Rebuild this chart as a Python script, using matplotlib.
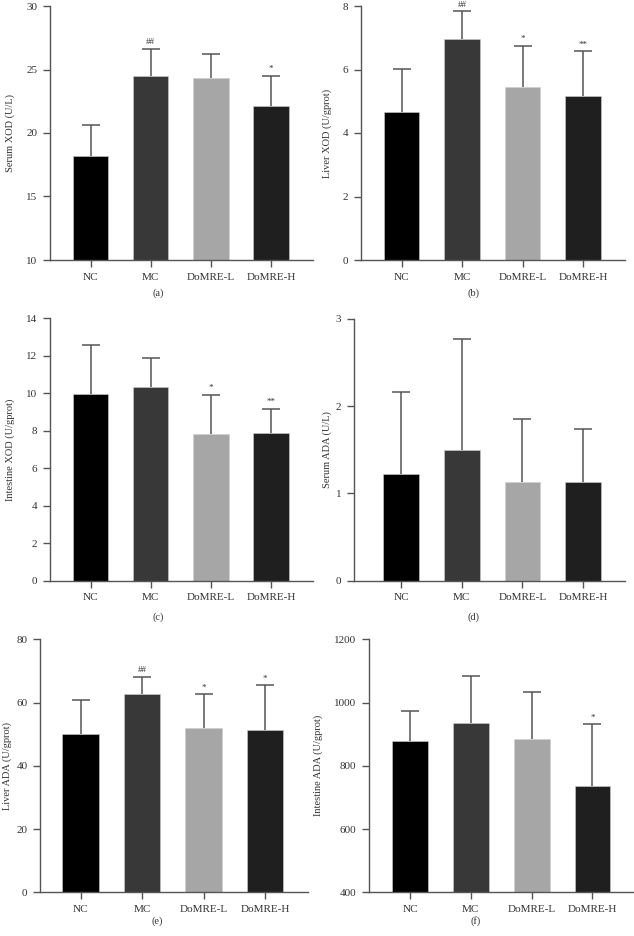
import matplotlib
matplotlib.use("Agg")
import matplotlib.pyplot as plt

plt.rcParams['font.family'] = ['Liberation Serif', 'DejaVu Serif']

groups = ['NC', 'MC', 'DoMRE-L', 'DoMRE-H']
bar_colors = ['#000000', '#383838', '#a6a6a6', '#1f1f1f']

serum_xod = [18.2, 24.5, 24.35, 22.15]
serum_xod_sd = [2.45, 2.1, 1.85, 2.35]
serum_xod_sig = ['', '##', '', '*']

liver_xod = [4.66, 6.95, 5.45, 5.17]
liver_xod_sd = [1.37, 0.88, 1.30, 1.40]
liver_xod_sig = ['', '##', '*', '**']

intestine_xod = [9.98, 10.36, 7.83, 7.86]
intestine_xod_sd = [2.58, 1.51, 2.10, 1.32]
intestine_xod_sig = ['', '', '*', '**']

serum_ada = [1.227, 1.494, 1.135, 1.135]
serum_ada_sd = [0.94, 1.276, 0.722, 0.607]
serum_ada_sig = ['', '', '', '']

liver_ada = [50.0, 62.8, 52.0, 51.4]
liver_ada_sd = [10.7, 5.3, 10.6, 14.0]
liver_ada_sig = ['', '##', '*', '*']

intestine_ada = [878, 936, 884, 735]
intestine_ada_sd = [94, 147, 150, 196]
intestine_ada_sig = ['', '', '', '*']

W, H = 634, 936
fig = plt.figure(figsize=(W / 100, H / 100), dpi=100)

# layout in pixels: left, top, bottom, xlim left, bar spacing, ... ylabel x, caption xy
panels = [
    (50, 6, 260, -0.673, 60.2, (10, 30), [10, 15, 20, 25, 30], 'Serum XOD (U/L)',
     serum_xod, serum_xod_sd, serum_xod_sig, '(a)', 15, (158, 293)),
    (361, 6, 260, -0.67, 60.5, (0, 8), [0, 2, 4, 6, 8], 'Liver XOD (U/gprot)',
     liver_xod, liver_xod_sd, liver_xod_sig, '(b)', 332, (473, 293)),
    (50, 318.3, 580.7, -0.673, 60.2, (0, 14), [0, 2, 4, 6, 8, 10, 12, 14], 'Intestine XOD (U/gprot)',
     intestine_xod, intestine_xod_sd, intestine_xod_sig, '(c)', 15, (158, 617)),
    (353.7, 319, 580.7, -0.78, 60.7, (0, 3), [0, 1, 2, 3], 'Serum ADA (U/L)',
     serum_ada, serum_ada_sd, serum_ada_sig, '(d)', 332, (473, 617)),
    (40, 639.3, 892.3, -0.66, 61.5, (0, 80), [0, 20, 40, 60, 80], 'Liver ADA (U/gprot)',
     liver_ada, liver_ada_sd, liver_ada_sig, '(e)', 12, (157, 921)),
    (368.7, 639.3, 892.3, -0.68, 60.8, (400, 1200), [400, 600, 800, 1000, 1200], 'Intestine ADA (U/gprot)',
     intestine_ada, intestine_ada_sd, intestine_ada_sig, '(f)', 323, (476, 921)),
]

axis_col = '#555555'
text_col = '#333333'

for (left, top, bottom, xl, sp, ylim, ticks, ylabel, vals, sds, sigs, cap, ylx, capxy) in panels:
    xr = 3.69
    width = (xr - xl) * sp
    ax = fig.add_axes([left / W, 1 - bottom / H, width / W, (bottom - top) / H])
    x = list(range(len(groups)))
    base = ylim[0]
    ax.bar(x, [v - base for v in vals], bottom=base, width=0.59, color=bar_colors,
           edgecolor='#cfcfcf', linewidth=0.4, zorder=2)
    # only the upper half of the error bar is shown
    eb = ax.errorbar(x, vals, yerr=[[0] * len(vals), sds], fmt='none', ecolor=axis_col,
                     elinewidth=1.1, capsize=6.5, capthick=1.1, zorder=1)
    eb[1][0].set_visible(False)
    for xi, v, s, sig in zip(x, vals, sds, sigs):
        if sig:
            ax.annotate(sig, (xi, v + s), xytext=(0, 2), textcoords='offset points',
                        ha='center', va='bottom', fontsize=6.5, color=text_col)
    ax.set_xlim(xl, xr)
    ax.set_ylim(*ylim)
    ax.set_yticks(ticks)
    ax.set_xticks(x)
    ax.set_xticklabels(groups)
    for s in ['top', 'right']:
        ax.spines[s].set_visible(False)
    for s in ['left', 'bottom']:
        ax.spines[s].set_color(axis_col)
        ax.spines[s].set_linewidth(1.0)
    ax.tick_params(axis='both', colors=axis_col, labelcolor=text_col, labelsize=8,
                   length=5, width=1.0, pad=4)
    ax.set_ylabel(ylabel, fontsize=7.5, color=text_col)
    ax.yaxis.set_label_coords(ylx / W, 1 - (top + bottom) / 2 / H, transform=fig.transFigure)
    fig.text(capxy[0] / W, 1 - capxy[1] / H, cap, ha='center', va='center',
             fontsize=7.5, color=text_col)

fig.savefig('out.png', dpi=100, facecolor='white')
